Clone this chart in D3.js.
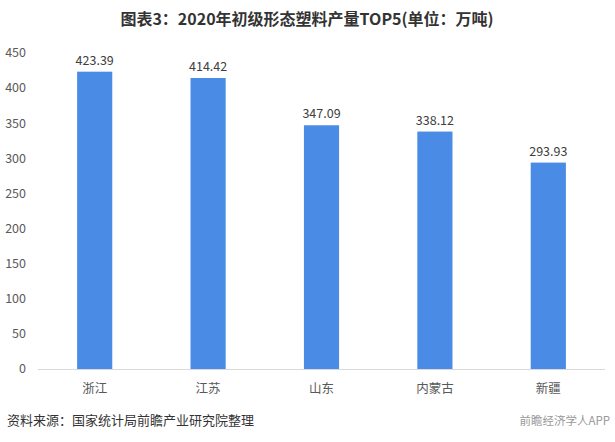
<!DOCTYPE html>
<html><head><meta charset="utf-8">
<script src="https://cdn.jsdelivr.net/npm/d3@7"></script>
<style>body{margin:0;background:#fff;}svg{display:block;font-family:"Microsoft YaHei","Noto Sans CJK SC",sans-serif;}</style>
</head><body>
<svg id="c" width="615" height="442"></svg>
<script>
const categories = ["浙江","江苏","山东","内蒙古","新疆"];
const values = [423.39, 414.42, 347.09, 338.12, 293.93];
const yTicks = [0,50,100,150,200,250,300,350,400,450];
const title = "图表3：2020年初级形态塑料产量TOP5(单位：万吨)";
const source = "资料来源：国家统计局前瞻产业研究院整理";

const svg = d3.select("#c");
const x = d3.scaleBand().domain(categories).range([38, 605]).paddingInner(0.69).paddingOuter(0.345);
const y = d3.scaleLinear().domain([0,450]).range([369, 53]);

svg.append("text").attr("x",307).attr("y",25).attr("text-anchor","middle")
  .attr("font-size",16).attr("font-weight","bold").attr("fill","#333").text(title);

svg.append("g").selectAll("text").data(yTicks).join("text")
  .attr("x",26).attr("y",d=>y(d)).attr("dy","0.35em").attr("text-anchor","end")
  .attr("font-size",12.5).attr("fill","#595959").text(d=>d);

svg.append("line").attr("x1",38).attr("x2",605).attr("y1",y(0)+0.5).attr("y2",y(0)+0.5)
  .attr("stroke","#d9d9d9").attr("stroke-width",1);

svg.append("g").selectAll("rect").data(values).join("rect")
  .attr("x",(d,i)=>x(categories[i])).attr("width",x.bandwidth())
  .attr("y",d=>y(d)).attr("height",d=>y(0)-y(d)).attr("fill","#4a8be5");

svg.append("g").selectAll("text").data(values).join("text")
  .attr("x",(d,i)=>x(categories[i])+x.bandwidth()/2).attr("y",d=>y(d)-7)
  .attr("text-anchor","middle").attr("font-size",12.5).attr("fill","#404040").text(d=>d.toFixed(2));

svg.append("g").selectAll("text").data(categories).join("text")
  .attr("x",d=>x(d)+x.bandwidth()/2).attr("y",393)
  .attr("text-anchor","middle").attr("font-size",12.5).attr("fill","#595959").text(d=>d);

svg.append("text").attr("x",7).attr("y",425).attr("font-size",13).attr("fill","#333").text(source);
svg.append("text").attr("x",610).attr("y",425).attr("text-anchor","end").attr("font-size",11.5).attr("fill","#999").text("前瞻经济学人APP");
</script>
</body></html>
